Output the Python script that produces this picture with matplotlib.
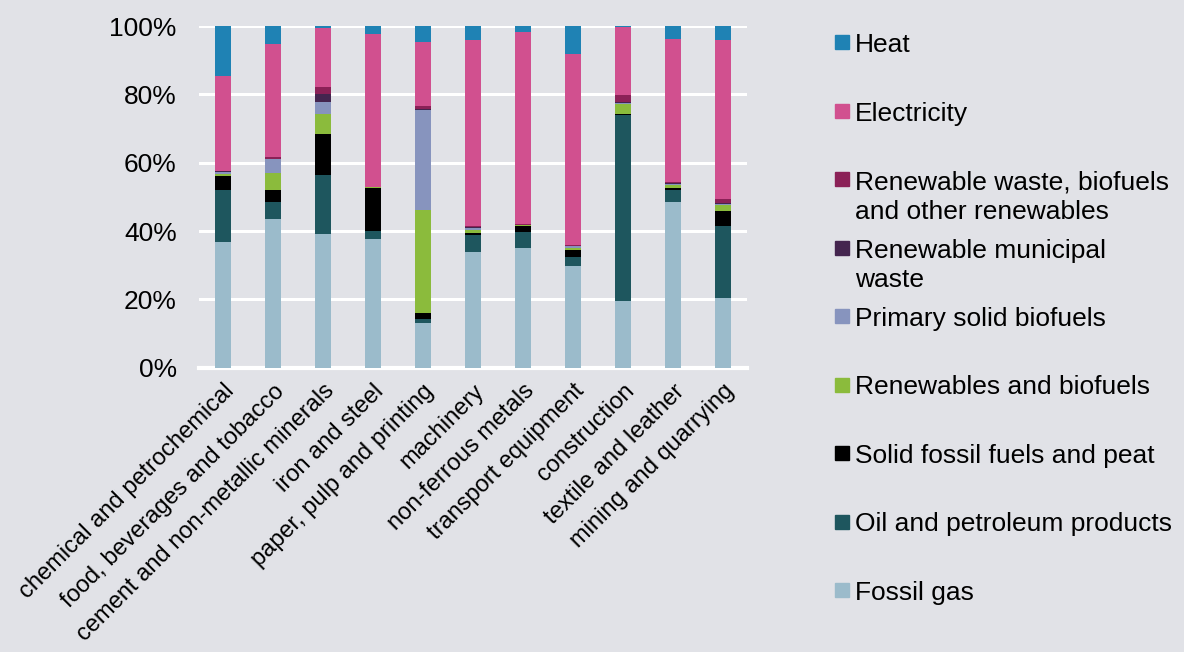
import numpy as np
import matplotlib.pyplot as plt
from matplotlib.patches import Rectangle

plt.rcParams['font.family'] = ['Liberation Sans', 'DejaVu Sans']

# Industrial sectors
sectors = ['chemical and petrochemical', 'food, beverages and tobacco',
           'cement and non-metallic minerals', 'iron and steel',
           'paper, pulp and printing', 'machinery', 'non-ferrous metals',
           'transport equipment', 'construction', 'textile and leather',
           'mining and quarrying']

# Share of final energy use per carrier (%), bottom to top
fossil_gas = [36.8, 43.4, 39.1, 37.7, 13.0, 33.8, 35.0, 29.7, 19.4, 48.5, 20.4]
oil = [15.1, 5.0, 17.2, 2.2, 1.4, 5.1, 4.6, 2.6, 54.5, 3.6, 21.2]
solid_fossil = [4.1, 3.6, 12.2, 12.8, 1.5, 0.5, 1.9, 2.3, 0.4, 0.5, 4.2]
renewables = [0.6, 4.9, 5.8, 0.2, 30.3, 0.9, 0.2, 0.5, 2.9, 0.8, 1.7]
primary_biofuels = [0.6, 4.1, 3.6, 0.0, 29.1, 0.7, 0.1, 0.4, 0.3, 0.5, 0.5]
municipal_waste = [0.3, 0.2, 2.2, 0.0, 0.4, 0.2, 0.1, 0.1, 0.2, 0.1, 0.3]
renewable_waste = [0.2, 0.6, 2.2, 0.0, 1.0, 0.2, 0.1, 0.2, 2.2, 0.4, 1.1]
electricity = [27.7, 32.9, 17.0, 44.7, 18.6, 54.5, 56.4, 55.9, 19.7, 41.8, 46.5]
heat = [14.6, 5.3, 0.7, 2.4, 4.7, 4.1, 1.6, 8.3, 0.4, 3.8, 4.1]

series = [
    ('Fossil gas', fossil_gas, '#9bbbcb'),
    ('Oil and petroleum products', oil, '#1e565e'),
    ('Solid fossil fuels and peat', solid_fossil, '#000000'),
    ('Renewables and biofuels', renewables, '#8bbb3c'),
    ('Primary solid biofuels', primary_biofuels, '#8794be'),
    ('Renewable municipal\nwaste', municipal_waste, '#44254f'),
    ('Renewable waste, biofuels\nand other renewables', renewable_waste, '#8b2157'),
    ('Electricity', electricity, '#d1508f'),
    ('Heat', heat, '#1f82b4'),
]

bg = '#e1e2e7'
fig = plt.figure(figsize=(11.84, 6.52), dpi=100, facecolor=bg)
ax = fig.add_axes([0.168, 0.436, 0.463, 0.524], facecolor=bg)

x = np.arange(len(sectors))
bottom = np.zeros(len(sectors))
for name, vals, col in series:
    vals = np.array(vals)
    ax.bar(x, vals, 0.31, bottom=bottom, color=col, zorder=3)
    bottom += vals

ax.set_xlim(-0.48, len(sectors) - 0.52)
ax.set_ylim(0, 100)
ax.set_yticks(np.arange(0, 101, 20))
ax.set_yticklabels([f'{v}%' for v in range(0, 101, 20)], fontsize=19)
ax.yaxis.grid(True, color='white', linewidth=2.2, zorder=0)
ax.axhline(0, color='white', linewidth=3, zorder=2, clip_on=False)
ax.tick_params(axis='y', length=0, pad=16)
ax.tick_params(axis='x', length=0, pad=9)
ax.set_xticks(x)
ax.set_xticklabels(sectors, rotation=45, ha='right', rotation_mode='anchor',
                   fontsize=17)
for s in ax.spines.values():
    s.set_visible(False)

# legend, top entry first
W, H = 1184, 652
for i, (name, vals, col) in enumerate(reversed(series)):
    yc = 42 + 68.5 * i
    fig.add_artist(Rectangle((835 / W, 1 - (yc + 7) / H), 14 / W, 14 / H,
                             transform=fig.transFigure, color=col))
    fig.text(855 / W, 1 - (yc - 9) / H, name, fontsize=19, va='top',
             ha='left', linespacing=1.3)

fig.savefig('out.png', dpi=100, facecolor=bg)
